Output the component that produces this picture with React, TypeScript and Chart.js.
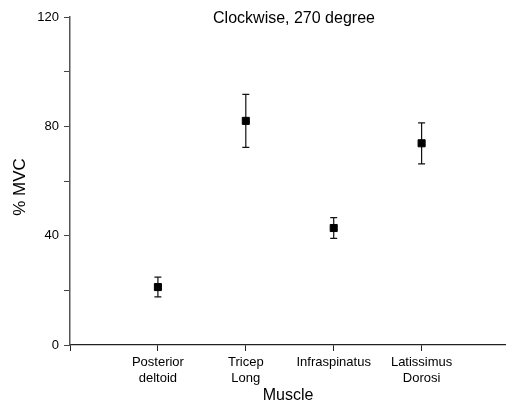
import React, { useEffect, useRef } from "react";
import { Chart, registerables } from "chart.js";

Chart.register(...registerables);

const categories: string[][] = [["Posterior", "deltoid"], ["Tricep", "Long"], ["Infraspinatus"], ["Latissimus", "Dorosi"]];
const means: number[] = [21.2, 82.0, 42.8, 73.8];
const errors: number[] = [3.6, 9.7, 3.8, 7.5];
const yMin = 0;
const yMax = 120;
const yStep = 20;
const yLabelEvery = 40;
const chartTitle = "Clockwise, 270 degree";
const xTitle = "Muscle";
const yTitle = "% MVC";

const FONT = "Arial, 'Liberation Sans', sans-serif";

const errorBarPlugin = {
  id: "errorBars",
  beforeDatasetsDraw(chart: any) {
    const ctx = chart.ctx;
    const xs = chart.scales.x;
    const ys = chart.scales.y;
    ctx.save();
    ctx.strokeStyle = "#111";
    ctx.lineWidth = 1.2;
    means.forEach((m, i) => {
      const px = xs.getPixelForValue(i);
      const top = ys.getPixelForValue(m + errors[i]);
      const bot = ys.getPixelForValue(m - errors[i]);
      const cap = 3.5;
      ctx.beginPath();
      ctx.moveTo(px, top);
      ctx.lineTo(px, bot);
      ctx.moveTo(px - cap, top);
      ctx.lineTo(px + cap, top);
      ctx.moveTo(px - cap, bot);
      ctx.lineTo(px + cap, bot);
      ctx.stroke();
    });
    ctx.restore();
  },
};

const titlePlugin = {
  id: "innerTitle",
  afterDraw(chart: any) {
    const { ctx, chartArea } = chart;
    ctx.save();
    ctx.fillStyle = "#000";
    ctx.font = `16px ${FONT}`;
    ctx.textAlign = "center";
    ctx.textBaseline = "middle";
    ctx.fillText(chartTitle, (chartArea.left + chartArea.right) / 2 + 6, chartArea.top + 2);
    // rotated y-axis title
    ctx.translate(20.5, (chartArea.top + chartArea.bottom) / 2 + 6);
    ctx.rotate(-Math.PI / 2);
    ctx.font = `17px ${FONT}`;
    ctx.fillText(yTitle, 0, 0);
    ctx.restore();
  },
};

export default function App() {
  const ref = useRef<HTMLCanvasElement | null>(null);
  useEffect(() => {
    if (!ref.current) return;
    const chart = new Chart(ref.current, {
      type: "scatter",
      data: {
        datasets: [
          {
            data: means.map((m, i) => ({ x: i, y: m })),
            backgroundColor: "#000",
            borderColor: "#000",
            pointStyle: "rect",
            pointRadius: 5,
            pointHoverRadius: 5,
          },
        ],
      },
      options: {
        animation: false,
        responsive: false,
        layout: { autoPadding: false, padding: { top: 17, right: 0, left: 0, bottom: 0 } },
        plugins: { legend: { display: false }, tooltip: { enabled: false }, title: { display: false } },
        scales: {
          x: {
            type: "linear",
            min: -1,
            max: 3.96,
            afterBuildTicks: (scale: any) => {
              scale.ticks = [-1, 0, 1, 2, 3].map((v) => ({ value: v }));
            },
            afterFit: (scale: any) => {
              scale.height = 58;
              scale.paddingLeft = 0;
              scale.paddingRight = 0;
            },
            grid: { drawOnChartArea: false, drawTicks: true, tickLength: 6, color: "#222", lineWidth: 1 },
            border: { display: true, color: "#222", width: 1.3 },
            ticks: {
              autoSkip: false,
              maxRotation: 0,
              padding: 4,
              color: "#000",
              font: { family: FONT, size: 13 },
              callback: (v: any) => categories[v as number] ?? "",
            },
            title: { display: true, text: xTitle, color: "#000", font: { family: FONT, size: 16 }, padding: { top: 0, bottom: -2 } },
          },
          y: {
            min: yMin,
            max: yMax,
            afterFit: (scale: any) => {
              scale.width = 70;
            },
            grid: { drawOnChartArea: false, drawTicks: true, tickLength: 6, color: "#444", lineWidth: 1 },
            border: { display: true, color: "#555", width: 1.5 },
            ticks: {
              stepSize: yStep,
              padding: 5,
              color: "#000",
              font: { family: FONT, size: 13 },
              callback: (v: any) => ((v as number) % yLabelEvery === 0 ? String(v) : ""),
            },
            title: { display: false },
          },
        },
      },
      plugins: [errorBarPlugin, titlePlugin],
    } as any);
    return () => chart.destroy();
  }, []);
  return (
    <div style={{ position: "fixed", left: 0, top: 0, width: 506, height: 403, background: "#fff" }}>
      <canvas ref={ref} width={506} height={403} style={{ display: "block" }} />
    </div>
  );
}
